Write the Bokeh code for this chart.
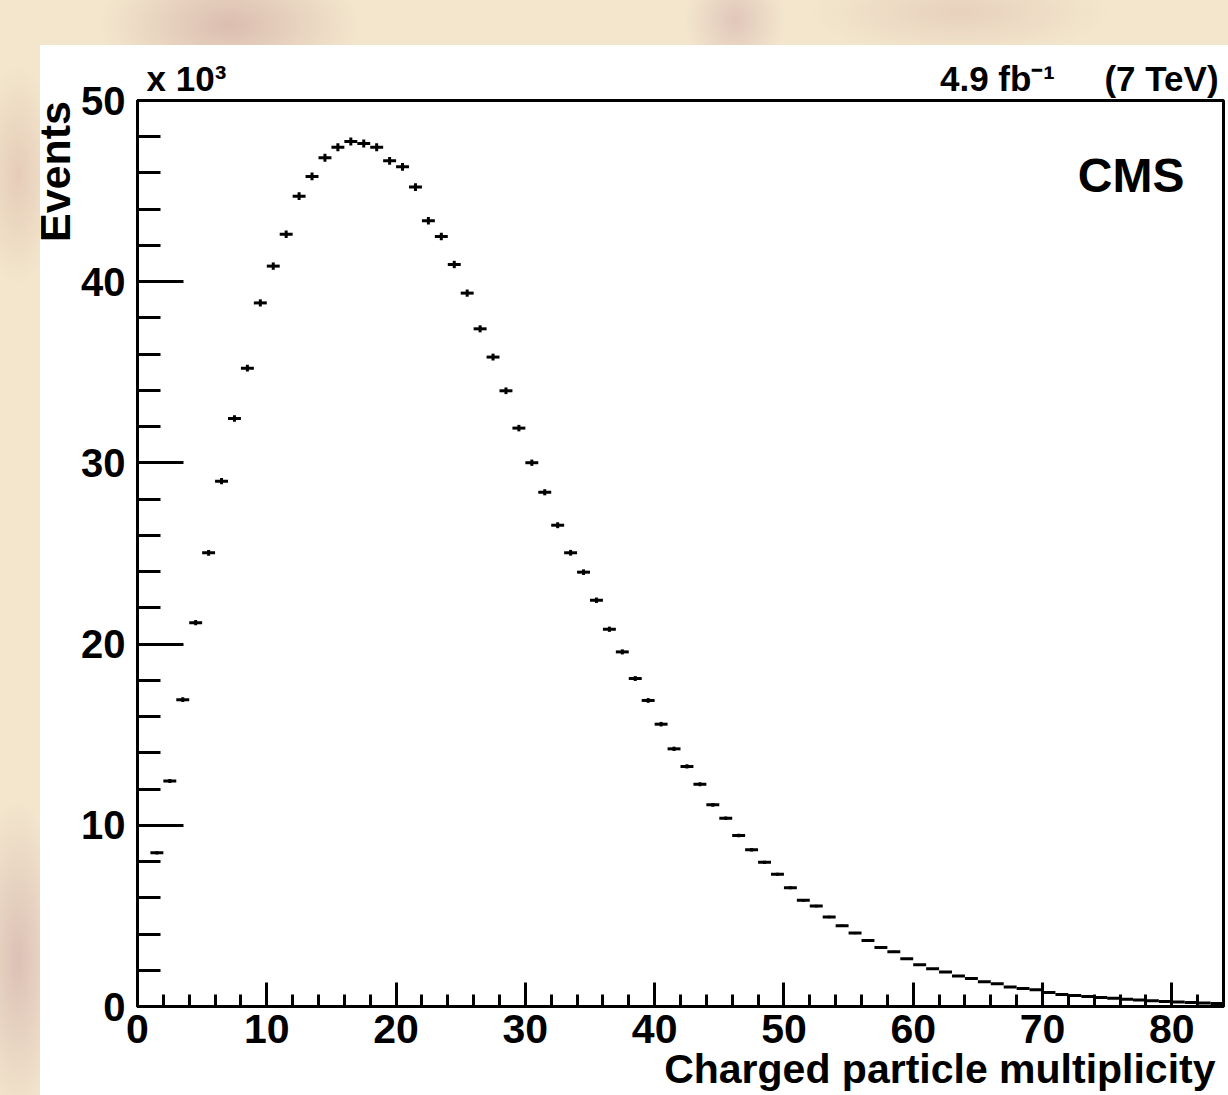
import numpy as np
from bokeh.plotting import figure
from bokeh.models import FixedTicker, Label, Range1d, ColumnDataSource, LinearAxis
from bokeh.embed import file_html
from bokeh.resources import INLINE

# ---- data ----
bin_low = list(range(1, 84))  # bins of width 1: [1,2], [2,3], ... [83,84]
events = [
    8480, 12450, 16930, 21180, 25040, 28990, 32450, 35230, 38830, 40860,
    42620, 44720, 45810, 46840, 47420, 47740, 47630, 47420, 46670, 46340,
    45220, 43360, 42500, 40950, 39370, 37400, 35840, 33980, 31920, 30010,
    28380, 26560, 25040, 23970, 22420, 20820, 19570, 18100, 16890, 15580,
    14220, 13250, 12270, 11130, 10390, 9440, 8650, 7960, 7300, 6550,
    5860, 5540, 4940, 4460, 4050, 3640, 3260, 3020, 2630, 2300,
    2080, 1910, 1690, 1550, 1360, 1250, 1070, 990, 920, 770,
    660, 610, 550, 500, 450, 400, 360, 320, 280, 250,
    220, 190, 160,
]
x_major = [0, 10, 20, 30, 40, 50, 60, 70, 80]
x_minor = list(range(0, 85, 2))
y_major = [0, 10, 20, 30, 40, 50]
y_minor = list(range(0, 51, 2))

lo = np.array(bin_low, dtype=float)
ev = np.array(events, dtype=float)
yk = ev / 1000.0
err = np.sqrt(ev) / 1000.0
src = ColumnDataSource(dict(x0=lo, x1=lo + 1.0, xc=lo + 0.5, y=yk,
                            ylo=yk - err, yhi=yk + err))

FONT = "Liberation Sans"

# page geometry of the reference frame
FL, FR, FT, FB = 137, 1223, 100, 1006
W, H = 1228, 1095
XMAX, YMAX = 84.0, 50.0

def dx(px):   # page x -> data x (for text placement only)
    return (px - FL) / (FR - FL) * XMAX
def dy(py):   # page y -> data y
    return (FB - py) / (FB - FT) * YMAX

bg = ("linear-gradient(#ffffff,#ffffff) 40px 45px / 1188px 1050px no-repeat, "
      "radial-gradient(ellipse 130px 70px at 230px 25px, rgba(190,140,140,0.45), rgba(190,140,140,0)), "
      "radial-gradient(ellipse 50px 60px at 735px 20px, rgba(190,140,150,0.35), rgba(190,140,150,0)), "
      "radial-gradient(ellipse 150px 45px at 960px 12px, rgba(205,160,150,0.30), rgba(205,160,150,0)), "
      "radial-gradient(ellipse 40px 110px at 18px 175px, rgba(205,155,145,0.35), rgba(205,155,145,0)), "
      "radial-gradient(ellipse 45px 160px at 18px 960px, rgba(185,135,145,0.40), rgba(185,135,145,0)), "
      "#f3e6cd")

p = figure(width=W, height=H, x_range=Range1d(0, XMAX), y_range=Range1d(0, YMAX),
           output_backend="svg", toolbar_location=None,
           min_border_left=FL, min_border_right=W - FR, min_border_top=FT, min_border_bottom=H - FB,
           background_fill_color="white", border_fill_color=None,
           outline_line_color="black", outline_line_width=3,
           styles={"background": bg})
p.xgrid.visible = False
p.ygrid.visible = False

# data: bin-width bars and statistical error bars
p.segment(x0="x0", x1="x1", y0="y", y1="y", source=src, line_color="black", line_width=3)
p.segment(x0="xc", x1="xc", y0="ylo", y1="yhi", source=src, line_color="black", line_width=3)

for ax, mt, nt, ticks, minor in ((p.xaxis[0], 24, 12, x_major, x_minor),
                                 (p.yaxis[0], 46, 23, y_major, y_minor)):
    ax.ticker = FixedTicker(ticks=ticks, minor_ticks=minor)
    ax.major_tick_in = mt
    ax.major_tick_out = 0
    ax.minor_tick_in = nt
    ax.minor_tick_out = 0
    ax.axis_line_width = 3
    ax.major_tick_line_width = 3
    ax.minor_tick_line_width = 3
    ax.axis_line_color = "black"
    ax.major_tick_line_color = "black"
    ax.minor_tick_line_color = "black"
    ax.major_label_text_font = FONT
    ax.major_label_text_font_style = "bold"
    ax.major_label_text_color = "black"
p.xaxis[0].major_label_text_font_size = "41px"
p.yaxis[0].major_label_text_font_size = "40px"
p.xaxis[0].major_label_standoff = 8
p.yaxis[0].major_label_standoff = 12

def text_axis(where, labels, size, standoff, vertical=False):
    """An axis with no line or ticks, used only to carry text outside the frame."""
    pos = list(labels.keys())
    ax = LinearAxis(ticker=FixedTicker(ticks=pos, minor_ticks=[]),
                    major_label_overrides=labels,
                    axis_line_color=None, major_tick_line_color=None,
                    minor_tick_line_color=None,
                    major_tick_in=0, major_tick_out=0, minor_tick_in=0, minor_tick_out=0,
                    major_label_standoff=standoff,
                    major_label_text_font=FONT, major_label_text_font_style="bold",
                    major_label_text_font_size=f"{size}px",
                    major_label_text_color="black")
    if vertical:
        ax.major_label_orientation = "vertical"
    p.add_layout(ax, where)
    return ax

# y-axis title, top-aligned like ROOT
text_axis("left", {dy(171): "Events"}, 43, 0, vertical=True)
# texts above the frame
text_axis("above", {dx(186): "x 10³", dx(997): "4.9 fb⁻¹", dx(1161): "(7 TeV)"}, 35, 3)

# x-axis title, right-aligned (placed in canvas pixels from a side panel, so not clipped)
p.add_layout(Label(x=1215, y=1068, x_units="canvas", y_units="canvas",
                   text="Charged particle multiplicity", text_font=FONT,
                   text_font_style="bold", text_font_size="41px", text_color="black",
                   text_align="right", text_baseline="alphabetic"), "above")

p.add_layout(Label(x=1184 - FL, y=FB - 175, x_units="screen", y_units="screen",
                   text="CMS", text_font=FONT, text_font_style="bold",
                   text_font_size="48px", text_color="black",
                   text_align="right", text_baseline="alphabetic"))

open("out.html", "w").write(file_html(p, INLINE))
